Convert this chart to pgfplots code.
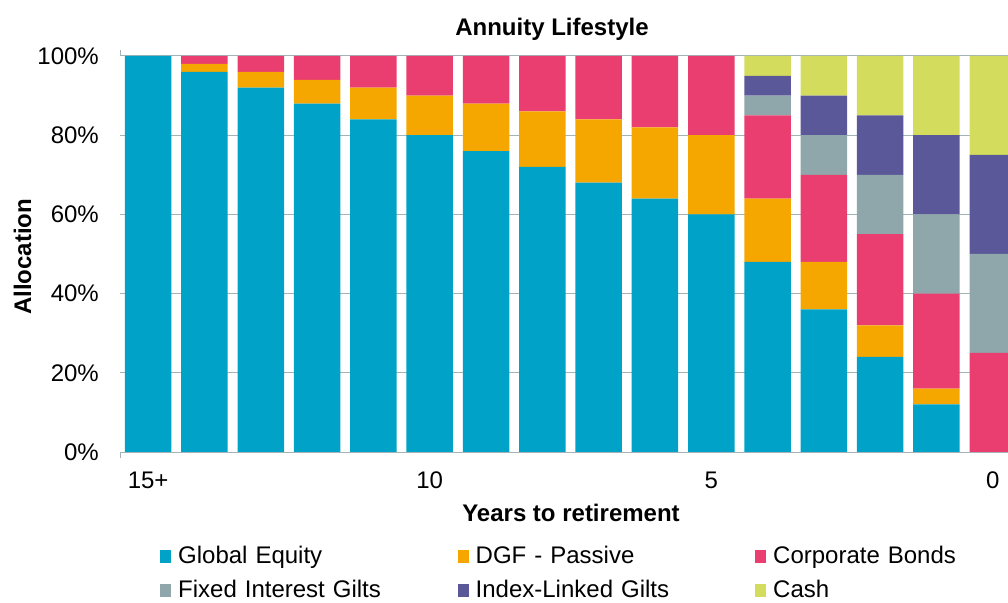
\documentclass[border=0pt]{standalone}
\usepackage{fontspec}
\setmainfont{Liberation Sans}
\usepackage{pgfplots}
\pgfplotsset{compat=1.18}
\definecolor{ge}{HTML}{00A3C7}
\definecolor{dgf}{HTML}{F5A700}
\definecolor{cb}{HTML}{E93E6F}
\definecolor{fig}{HTML}{8FA6AA}
\definecolor{ilg}{HTML}{5B589A}
\definecolor{cash}{HTML}{D4DC5E}
\definecolor{gridc}{HTML}{A3B4B9}
\newcommand{\cf}{\fontsize{24bp}{28bp}\selectfont}
\begin{document}
\begin{tikzpicture}
\begin{axis}[
  at={(120bp,151bp)}, anchor=south west,
  scale only axis, width=888bp, height=396bp,
  ybar stacked, bar width=46.5bp,
  xmin=-0.5, xmax=15.27, ymin=0, ymax=100,
  xtick={0,5,10,15}, xticklabels={15+,10,5,0},
  ytick={0,20,40,60,80,100}, yticklabels={0\%,20\%,40\%,60\%,80\%,100\%},
  major tick length=0pt,
  ymajorgrids, grid style={draw=gridc, line width=1bp},
  axis line style={draw=none},
  tick label style={font=\cf, inner sep=0pt},
  yticklabel style={anchor=east, xshift=-21bp},
  xticklabel style={anchor=north, yshift=-19.7bp},
  extra x ticks={-0.5}, extra x tick labels={},
  extra x tick style={major tick length=6bp, tick align=outside, tick style={draw=gridc, line width=1bp}},
  legend columns=3,
  legend image code/.code={\fill[#1] (0bp,-8.5bp) rectangle (11bp,4.5bp);},
  legend style={draw=none, fill=none, inner sep=0pt, font=\cf,
    at={(axis description cs:0.04505,-0.2374)}, anchor=north west,
    row sep=17bp,
    nodes={text width=270bp, text height=17bp, text depth=0bp, inner xsep=0pt, inner ysep=0pt, anchor=west},
    /tikz/every odd column/.append style={column sep=7bp},
    /tikz/every even column/.append style={column sep=9.5bp}},
]
\addplot[fill=ge, draw=none] coordinates {(0,100)(1,96)(2,92)(3,88)(4,84)(5,80)(6,76)(7,72)(8,68)(9,64)(10,60)(11,48)(12,36)(13,24)(14,12)(15,0)};
\addlegendentry{Global Equity}
\addplot[fill=dgf, draw=none] coordinates {(0,0)(1,2)(2,4)(3,6)(4,8)(5,10)(6,12)(7,14)(8,16)(9,18)(10,20)(11,16)(12,12)(13,8)(14,4)(15,0)};
\addlegendentry{DGF - Passive}
\addplot[fill=cb, draw=none] coordinates {(0,0)(1,2)(2,4)(3,6)(4,8)(5,10)(6,12)(7,14)(8,16)(9,18)(10,20)(11,21)(12,22)(13,23)(14,24)(15,25)};
\addlegendentry{Corporate Bonds}
\addplot[fill=fig, draw=none] coordinates {(0,0)(1,0)(2,0)(3,0)(4,0)(5,0)(6,0)(7,0)(8,0)(9,0)(10,0)(11,5)(12,10)(13,15)(14,20)(15,25)};
\addlegendentry{Fixed Interest Gilts}
\addplot[fill=ilg, draw=none] coordinates {(0,0)(1,0)(2,0)(3,0)(4,0)(5,0)(6,0)(7,0)(8,0)(9,0)(10,0)(11,5)(12,10)(13,15)(14,20)(15,25)};
\addlegendentry{Index-Linked Gilts}
\addplot[fill=cash, draw=none] coordinates {(0,0)(1,0)(2,0)(3,0)(4,0)(5,0)(6,0)(7,0)(8,0)(9,0)(10,0)(11,5)(12,10)(13,15)(14,20)(15,25)};
\addlegendentry{Cash}
\end{axis}
\node[font=\bfseries\cf, anchor=base] at (552bp,567.5bp) {Annuity Lifestyle};
\node[font=\bfseries\cf, anchor=base, rotate=90] at (31bp,346bp) {Allocation};
\node[font=\bfseries\cf, anchor=base] at (571bp,81bp) {Years to retirement};
\pgfresetboundingbox
\path[use as bounding box] (0,0) rectangle (1008bp,603bp);
\end{tikzpicture}
\end{document}
